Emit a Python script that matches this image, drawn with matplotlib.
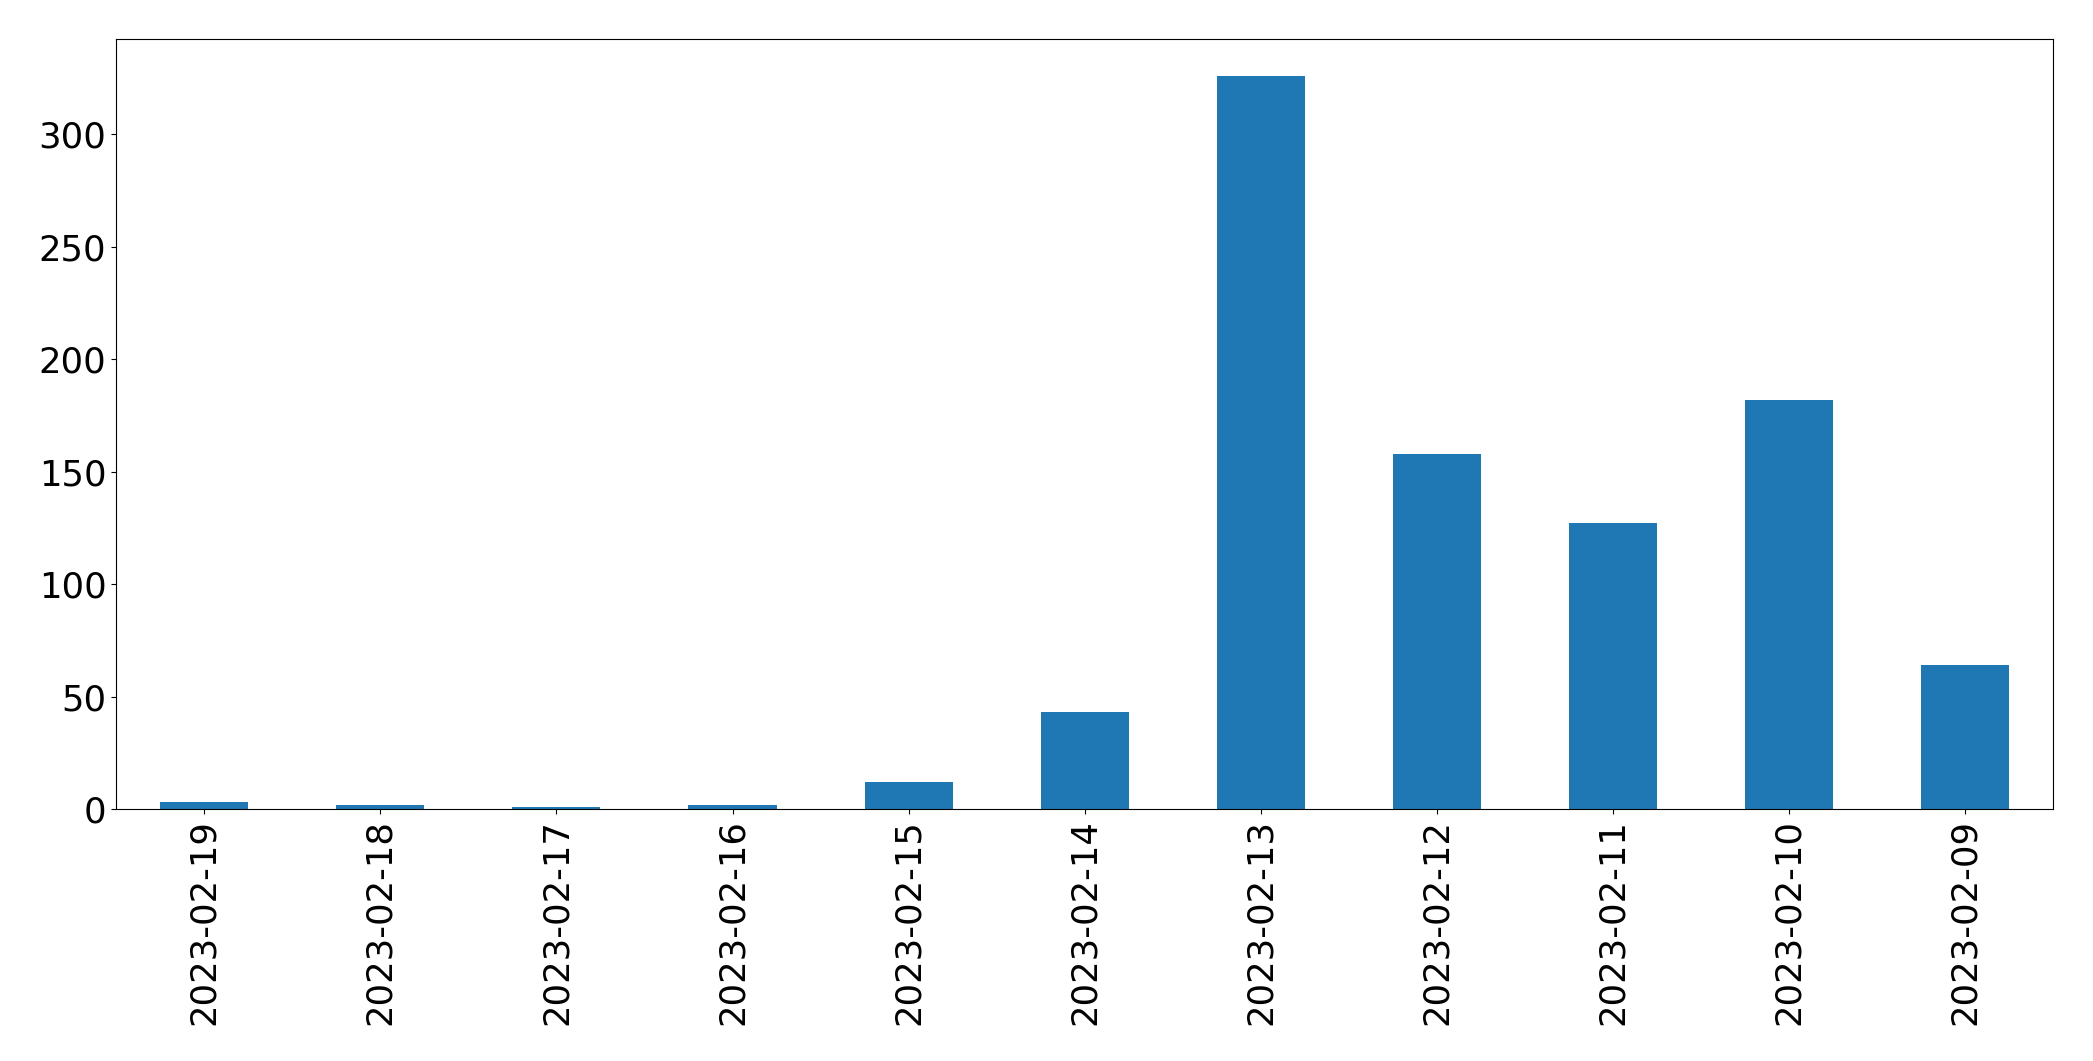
import numpy as np
import matplotlib
matplotlib.use("Agg")
import matplotlib.pyplot as plt

dates = ["2023-02-19", "2023-02-18", "2023-02-17", "2023-02-16", "2023-02-15",
         "2023-02-14", "2023-02-13", "2023-02-12", "2023-02-11", "2023-02-10",
         "2023-02-09"]
counts = [3, 2, 1, 2, 12, 43, 326, 158, 127, 182, 64]


def main():
    fig = plt.figure(figsize=(20.93, 10.61), dpi=100)
    ax = fig.add_axes([0.0555, 0.2375, 0.9255, 0.7255])

    x = np.arange(len(dates))
    ax.bar(x, counts, width=0.5, color="#1f77b4")
    ax.set_xlim(-0.5, len(dates) - 0.5)
    ax.set_xticks(x)
    ax.set_xticklabels(dates, rotation=90)
    ax.tick_params(labelsize=25.5)

    plt.savefig("out.png", dpi=100)


if __name__ == '__main__':
    main()
